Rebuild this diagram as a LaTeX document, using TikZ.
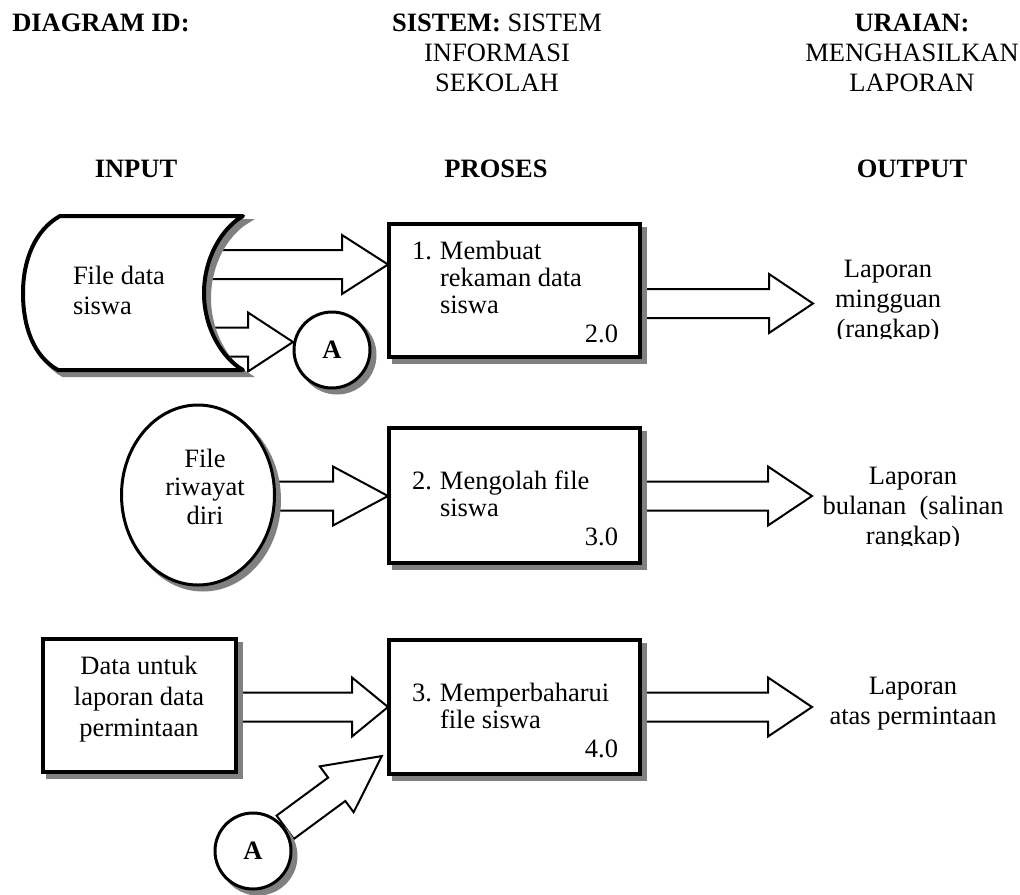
\documentclass[tikz,border=0pt]{standalone}
\usepackage{fontspec}
\setmainfont{Liberation Serif}
\usetikzlibrary{shapes.geometric}
\newcommand\mylines[2]{\begin{tabular}[t]{@{}#1@{}}#2\end{tabular}}
\newcommand\numlines[1]{\begin{tabular}[t]{@{}p{14pt}@{}l@{}}#1\end{tabular}}
\newcommand\harrow[4]{\draw[blockarr] ({#1},{#4-14.5}) -- ({#2},{#4-14.5}) -- ({#2},{#4-29.5}) -- ({#3},{#4}) -- ({#2},{#4+29.5}) -- ({#2},{#4+14.5}) -- ({#1},{#4+14.5});}
\begin{document}
\begin{tikzpicture}[x=0.5pt,y=-0.5pt,
  every node/.style={inner sep=0pt,outer sep=0pt},
  txt/.style={font=\fontsize{13.25}{15}\selectfont},
  boxtxt/.style={font=\fontsize{13.25}{13.5}\selectfont},
  blockarr/.style={draw,line width=1pt,fill=white,line join=miter,miter limit=10},
  shad/.style={preaction={fill=black!50,draw=black!50,line width=#1,transform canvas={shift={(2.5pt,-2.5pt)}}}},
  procbox/.style={draw,line width=2pt,fill=white,shad=2pt,minimum width=125.5pt},
  connector/.style={circle,draw,line width=1.5pt,fill=white,shad=1.5pt,minimum size=38pt,font=\bfseries\fontsize{13.25}{15}\selectfont},
]
\useasboundingbox (0,0) rectangle (1020,894);

% titles
\node[txt,anchor=base] (did) at (101,31) {\textbf{DIAGRAM ID:}};
\node[txt,anchor=base] (sis) at (497,31) {\mylines{c}{\textbf{SISTEM:} SISTEM\\INFORMASI\\SEKOLAH}};
\node[txt,anchor=base] (ura) at (912,31) {\mylines{c}{\textbf{URAIAN:}\\MENGHASILKAN\\LAPORAN}};
\node[txt,anchor=base] (hin) at (136,177) {\textbf{INPUT}};
\node[txt,anchor=base] (hpr) at (496,177) {\textbf{PROSES}};
\node[txt,anchor=base] (hout) at (912,177) {\textbf{OUTPUT}};

% block arrows (drawn first, shapes on top)
\harrow{200}{342}{388}{264.5}
\harrow{200}{248}{293}{342}
\harrow{260}{333}{388}{496}
\harrow{230}{352}{388}{707}
\harrow{640}{769}{813}{303.5}
\harrow{640}{768}{812}{496}
\harrow{640}{768}{812}{707}
\begin{scope}[shift={(253,851)},rotate=36.4]
  \draw[blockarr] (40,-14.5) -- (104,-14.5) -- (104,-28.5) -- (160,0) -- (104,28.5) -- (104,14.5) -- (40,14.5) -- cycle;
\end{scope}

% stored data (file data siswa)
\draw[line width=2pt,fill=white,shad=2pt,line join=round]
  (60,216) -- (243,216) .. controls (222,228) and (204,258) .. (204,293)
  .. controls (204,328) and (222,358) .. (243,370) -- (58,370)
  .. controls (33,356) and (23,326) .. (23,293)
  .. controls (23,260) and (35,230) .. (60,216) -- cycle;
\node[txt,anchor=base west] (fds) at (73,284) {\mylines{l}{File data\\siswa}};

% connectors A
\node[connector] (A1) at (332,350) {A};
\node[connector] (A2) at (253,851) {A};

% file riwayat diri
\node[ellipse,draw,line width=1.5pt,fill=white,shad=1.5pt,minimum width=76.5pt,minimum height=90pt] (rw) at (198,495) {};
\node[anchor=base,font=\fontsize{13.25}{14.25}\selectfont] (rwt) at (205,467) {\mylines{c}{File\\riwayat\\diri}};

% data untuk laporan
\node[draw,line width=2pt,fill=white,shad=2pt,minimum width=96.5pt,minimum height=66.5pt] (db) at (139.5,705.5) {};
\node[anchor=base,font=\fontsize{13.25}{15.5}\selectfont] (dbt) at (139,674) {\mylines{c}{Data untuk\\laporan data\\permintaan}};

% process boxes
\node[procbox,minimum height=66.5pt] (p1) at (514.5,290.5) {};
\node[procbox,minimum height=67.5pt] (p2) at (514.5,495.5) {};
\node[procbox,minimum height=67pt] (p3) at (514.5,707) {};
\node[boxtxt,anchor=base west] (p1t) at (412,259) {\numlines{1. & Membuat\\ & rekaman data\\ & siswa}};
\node[boxtxt,anchor=base east] (p1n) at (618,342) {2.0};
\node[boxtxt,anchor=base west] (p2t) at (412,489) {\numlines{2. & Mengolah file\\ & siswa}};
\node[boxtxt,anchor=base east] (p2n) at (618,545) {3.0};
\node[boxtxt,anchor=base west] (p3t) at (412,701) {\numlines{3. & Memperbaharui\\ & file siswa}};
\node[boxtxt,anchor=base east] (p3n) at (618,757) {4.0};

% outputs
\begin{scope}
  \clip (700,240) rectangle (1020,338);
  \node[txt,anchor=base] (o1) at (888,277) {\mylines{c}{Laporan\\mingguan\\(rangkap)}};
\end{scope}
\begin{scope}
  \clip (700,440) rectangle (1020,545);
  \node[txt,anchor=base] (o2) at (913,484) {\mylines{c}{Laporan\\bulanan\ \ (salinan\\rangkap)}};
\end{scope}
\node[txt,anchor=base] (o3) at (913,694) {\mylines{c}{Laporan\\atas permintaan}};
\end{tikzpicture}
\end{document}
